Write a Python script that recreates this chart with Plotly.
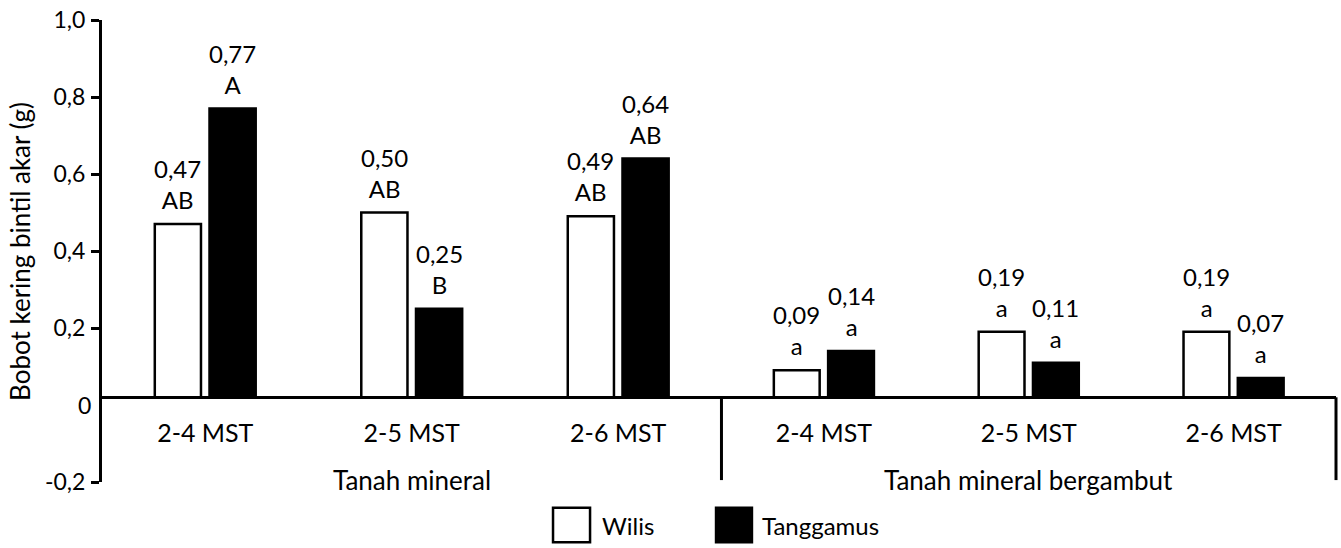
import plotly.graph_objects as go

# Data: dry weight of root nodules (g)
periods = ["2-4 MST", "2-5 MST", "2-6 MST"]
soil_groups = ["Tanah mineral", "Tanah mineral bergambut"]

wilis_mineral = [0.47, 0.50, 0.49]
tanggamus_mineral = [0.77, 0.25, 0.64]
wilis_gambut = [0.09, 0.19, 0.19]
tanggamus_gambut = [0.14, 0.11, 0.07]

letters_wilis_mineral = ["AB", "AB", "AB"]
letters_tanggamus_mineral = ["A", "B", "AB"]
letters_wilis_gambut = ["a", "a", "a"]
letters_tanggamus_gambut = ["a", "a", "a"]

y_tickvals = [-0.2, 0.2, 0.4, 0.6, 0.8, 1.0]
y_ticktext = ["-0,2", "0,2", "0,4", "0,6", "0,8", "1,0"]

# Layout constants
FONT = "Lato"
FS_NUM = 23
FS_VAL = 24
FS_CAT = 25
FS_GROUP = 26
Y_MIN, Y_MAX = -0.2, 1.0
AXIS_BASE = 0.02          # level where the category axis line is drawn
SPLIT = 0.502             # boundary between the two soil panels (paper fraction)
BARGAP = 0.47
BARGROUPGAP = 0.156


def comma(v):
    return f"{v:.2f}".replace(".", ",")


def font(size):
    return dict(family=FONT, size=size, color="black")


def bar(name, x, vals, fill, axis):
    return go.Bar(
        name=name,
        x=x,
        y=[v - AXIS_BASE for v in vals],
        base=AXIS_BASE,
        xaxis=axis,
        yaxis="y",
        marker=dict(color=fill, line=dict(color="black", width=2.5)),
        showlegend=False,
    )


fig = go.Figure()
fig.add_trace(bar("Wilis", periods, wilis_mineral, "white", "x"))
fig.add_trace(bar("Tanggamus", periods, tanggamus_mineral, "black", "x"))
fig.add_trace(bar("Wilis", periods, wilis_gambut, "white", "x2"))
fig.add_trace(bar("Tanggamus", periods, tanggamus_gambut, "black", "x2"))

# Value + significance letters above each bar
half_slot = (1 - BARGAP) / 4
label_sets = [
    ("x", wilis_mineral, letters_wilis_mineral, -half_slot),
    ("x", tanggamus_mineral, letters_tanggamus_mineral, half_slot),
    ("x2", wilis_gambut, letters_wilis_gambut, -half_slot),
    ("x2", tanggamus_gambut, letters_tanggamus_gambut, half_slot),
]
for axis, vals, letters, off in label_sets:
    for i, (v, l) in enumerate(zip(vals, letters)):
        fig.add_annotation(xref=axis, yref="y", x=i + off, y=v, yanchor="bottom", yshift=8,
                           text=f"{comma(v)}<br>{l}", showarrow=False, font=font(FS_VAL))

axis_pos = (AXIS_BASE - Y_MIN) / (Y_MAX - Y_MIN)
xaxis_common = dict(
    anchor="free",
    position=axis_pos,
    showline=True,
    linecolor="black",
    linewidth=3,
    ticks="",
    showgrid=False,
    zeroline=False,
    tickfont=font(FS_CAT),
    ticklabelstandoff=13,
    range=[-0.5, 2.5],
    fixedrange=True,
)

fig.update_layout(
    width=1341,
    height=548,
    margin=dict(l=102, r=5, t=15, b=66),
    paper_bgcolor="white",
    plot_bgcolor="white",
    barmode="group",
    bargap=BARGAP,
    bargroupgap=BARGROUPGAP,
    showlegend=False,
    font=font(FS_NUM),
    xaxis=dict(domain=[0, SPLIT], **xaxis_common),
    xaxis2=dict(domain=[SPLIT, 1], **xaxis_common),
    yaxis=dict(
        range=[Y_MIN, Y_MAX],
        domain=[0, 1],
        anchor="x",
        showline=True,
        linecolor="black",
        linewidth=3,
        ticks="outside",
        ticklen=8,
        tickwidth=2.5,
        tickcolor="black",
        tickvals=y_tickvals,
        ticktext=y_ticktext,
        ticklabelstandoff=1,
        tickfont=font(FS_NUM),
        showgrid=False,
        zeroline=False,
    ),
)

# "0" label on the value axis (no tick mark at this level)
fig.add_annotation(xref="paper", yref="y", x=0, y=0, xanchor="right", yanchor="middle",
                   xshift=-9, text="0", showarrow=False, font=font(FS_NUM))

# Vertical separators closing each soil panel below the category axis
for ref in ["x domain", "x2 domain"]:
    fig.add_shape(type="line", xref=ref, yref="y", x0=1, x1=1, y0=AXIS_BASE, y1=Y_MIN + 0.005,
                  line=dict(color="black", width=3))

# Soil group labels
for ref, label in zip(["x domain", "x2 domain"], soil_groups):
    fig.add_annotation(xref=ref, yref="paper", x=0.5, y=0, yanchor="middle", yshift=2,
                       text=label, showarrow=False, font=font(FS_GROUP))

# Y-axis title
fig.add_annotation(xref="paper", yref="paper", x=-0.0665, y=0.5, textangle=-90,
                   text="Bobot kering bintil akar (g)", showarrow=False,
                   xanchor="center", yanchor="middle", font=font(FS_GROUP))

# Legend keys
legend_items = [("Wilis", "white", 0.3655, 0.3955, 0.4036),
                ("Tanggamus", "black", 0.4976, 0.5267, 0.5332)]
for name, fill, bx0, bx1, tx in legend_items:
    fig.add_shape(type="rect", xref="paper", yref="paper", x0=bx0, x1=bx1, y0=-0.1306, y1=-0.0557,
                  fillcolor=fill, line=dict(color="black", width=2.5))
    fig.add_annotation(xref="paper", yref="paper", x=tx, y=-0.0931, xanchor="left", yanchor="middle",
                       text=name, showarrow=False, font=font(24))

fig.write_html("out.html")
